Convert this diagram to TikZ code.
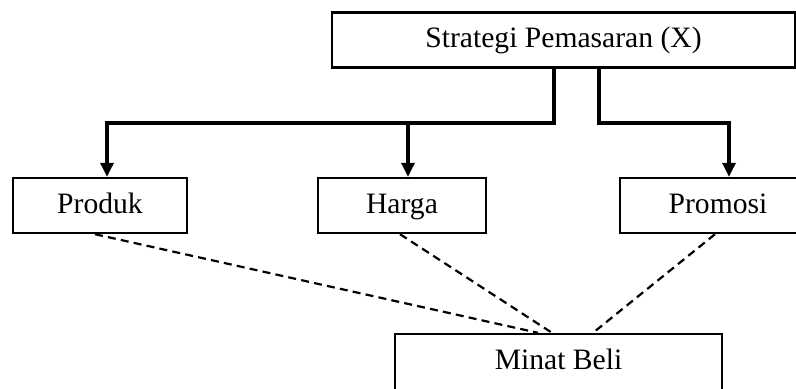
\documentclass[tikz,border=0pt]{standalone}
\usepackage{fontspec}
\setmainfont{Liberation Serif}
\usetikzlibrary{calc,arrows.meta}
\begin{document}
\begin{tikzpicture}[x=0.5pt,y=-0.5pt,
  box/.style={draw,line width=1.2pt,minimum height=27.5pt,inner sep=0pt,text height=0.75em,text depth=0pt,font=\fontsize{14.8}{17}\selectfont},
  arr/.style={line width=1.6pt,-{Triangle[length=7pt,width=6.5pt]}},
  dashline/.style={line width=1.1pt,dash pattern=on 4pt off 2.6pt}]
\useasboundingbox (0,0) rectangle (796,388);
\begin{scope}
\clip (0,0) rectangle (796,388);
\node[box,minimum width=231.5pt] (top) at (563.5,40) {Strategi Pemasaran (X)};
\node[box,minimum width=87pt] (prod) at (100,205.5) {Produk};
\node[box,minimum width=84pt] (harga) at (402,205.5) {Harga};
\node[box,minimum width=98pt] (promo) at (718,205.5) {Promosi};
\node[box,minimum width=163.5pt,minimum height=28pt] (minat) at (558.5,362) {Minat Beli};
\coordinate (jl) at ($(top.south)+(-9.5,0)$);
\coordinate (jr) at ($(top.south)+(35.5,0)$);
\coordinate (ah) at ($(harga.north)+(6,0)$);
\draw[arr] (jl) -- (jl |- 0,123) -| ($(prod.north)+(7,0)$);
\draw[arr] (ah |- 0,123) -- (ah);
\draw[arr] (jr) -- (jr |- 0,123) -| ($(promo.north)+(11,0)$);
\draw[dashline] ($(prod.south)+(-5,0)$) -- ($(minat.north)+(-20.5,0)$);
\draw[dashline] ($(harga.south)+(-2,0)$) -- ($(minat.north)+(-6.5,0)$);
\draw[dashline] ($(promo.south)+(-3,0)$) -- ($(minat.north)+(34.5,0)$);
\end{scope}
\end{tikzpicture}
\end{document}
